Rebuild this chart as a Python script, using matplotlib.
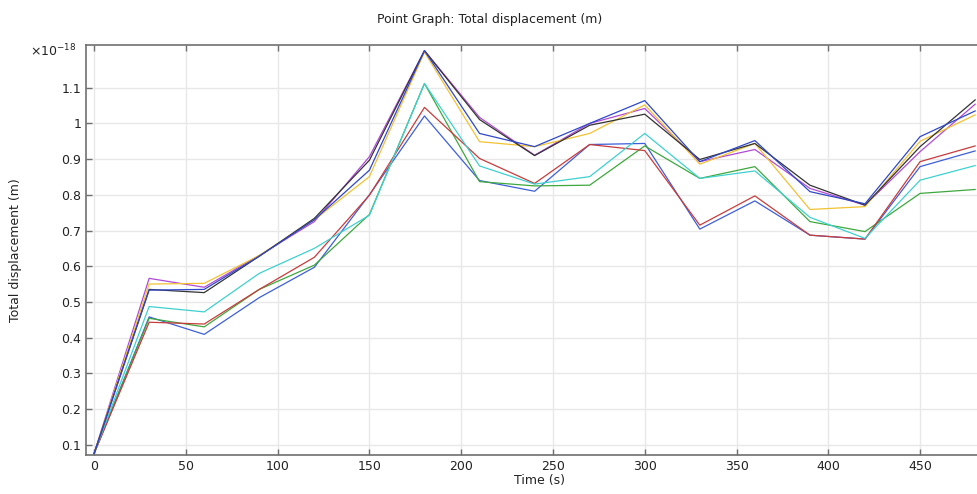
import matplotlib
matplotlib.use("Agg")
import matplotlib.pyplot as plt
from matplotlib.ticker import FuncFormatter

# time axis (s)
time = [0, 30, 60, 90, 120, 150, 180, 210, 240, 270, 300, 330, 360, 390, 420, 450, 480]

# total displacement, in units of 1e-18 m
blue_low = [0.075, 0.458, 0.409, 0.512, 0.597, 0.800, 1.021, 0.840, 0.810, 0.941, 0.944, 0.704, 0.783, 0.687, 0.676, 0.879, 0.923]
green = [0.075, 0.454, 0.430, 0.535, 0.603, 0.745, 1.112, 0.837, 0.825, 0.827, 0.937, 0.846, 0.879, 0.725, 0.697, 0.804, 0.815]
red = [0.075, 0.443, 0.438, 0.535, 0.625, 0.799, 1.045, 0.902, 0.832, 0.941, 0.924, 0.715, 0.797, 0.687, 0.676, 0.893, 0.937]
cyan = [0.075, 0.487, 0.472, 0.580, 0.650, 0.743, 1.112, 0.881, 0.830, 0.851, 0.972, 0.846, 0.867, 0.737, 0.678, 0.841, 0.882]
magenta = [0.075, 0.566, 0.541, 0.630, 0.725, 0.907, 1.204, 1.017, 0.911, 1.000, 1.042, 0.893, 0.927, 0.818, 0.771, 0.921, 1.054]
yellow = [0.075, 0.550, 0.552, 0.630, 0.730, 0.851, 1.200, 0.949, 0.935, 0.972, 1.052, 0.886, 0.944, 0.759, 0.767, 0.950, 1.024]
black = [0.075, 0.535, 0.526, 0.628, 0.734, 0.897, 1.204, 1.011, 0.910, 0.995, 1.026, 0.899, 0.944, 0.827, 0.771, 0.935, 1.066]
blue_up = [0.075, 0.533, 0.535, 0.628, 0.730, 0.869, 1.204, 0.972, 0.935, 1.000, 1.064, 0.893, 0.952, 0.809, 0.775, 0.963, 1.035]

series = [
    (blue_low, "#3d5fd8"),
    (green, "#3ea83e"),
    (red, "#c83c3c"),
    (cyan, "#3fd0d0"),
    (magenta, "#b04ad6"),
    (yellow, "#f2c232"),
    (black, "#333333"),
    (blue_up, "#2f48c8"),
]

W, H = 977, 494
fig = plt.figure(figsize=(W / 100, H / 100), dpi=100)
left, right, top, bottom = 86, 993.5, 45.3, 455
ax = fig.add_axes([left / W, (H - bottom) / H, (right - left) / W, (bottom - top) / H])

for vals, col in series:
    ax.plot(time, vals, color=col, linewidth=0.9)

ax.set_xlim(-4.4, 490)
ax.set_ylim(0.071, 1.219)
ax.set_xticks(range(0, 451, 50))
ax.set_yticks([0.1, 0.2, 0.3, 0.4, 0.5, 0.6, 0.7, 0.8, 0.9, 1.0, 1.1])
ax.yaxis.set_major_formatter(FuncFormatter(lambda v, p: f"{v:g}"))

ax.grid(True, color="#e8e8e8", linewidth=1.0)
ax.set_axisbelow(True)
for s in ax.spines.values():
    s.set_color("#707070")
    s.set_linewidth(1.2)
ax.tick_params(direction="in", length=4, width=1, color="#707070",
               top=True, right=True, labelsize=9, labelcolor="#222222")

ax.set_xlabel("Time (s)", fontsize=9, labelpad=1, color="#222222")
ax.set_ylabel("Total displacement (m)", fontsize=9, labelpad=28, color="#222222")

fig.text(490 / W, 1 - 20 / H, "Point Graph: Total displacement (m)",
         ha="center", va="center", fontsize=9, color="#222222")
fig.text(30 / W, 1 - 51 / H, r"$\times10^{-18}$", ha="left", va="center",
         fontsize=9, color="#222222")

fig.savefig("out.png", dpi=100)
